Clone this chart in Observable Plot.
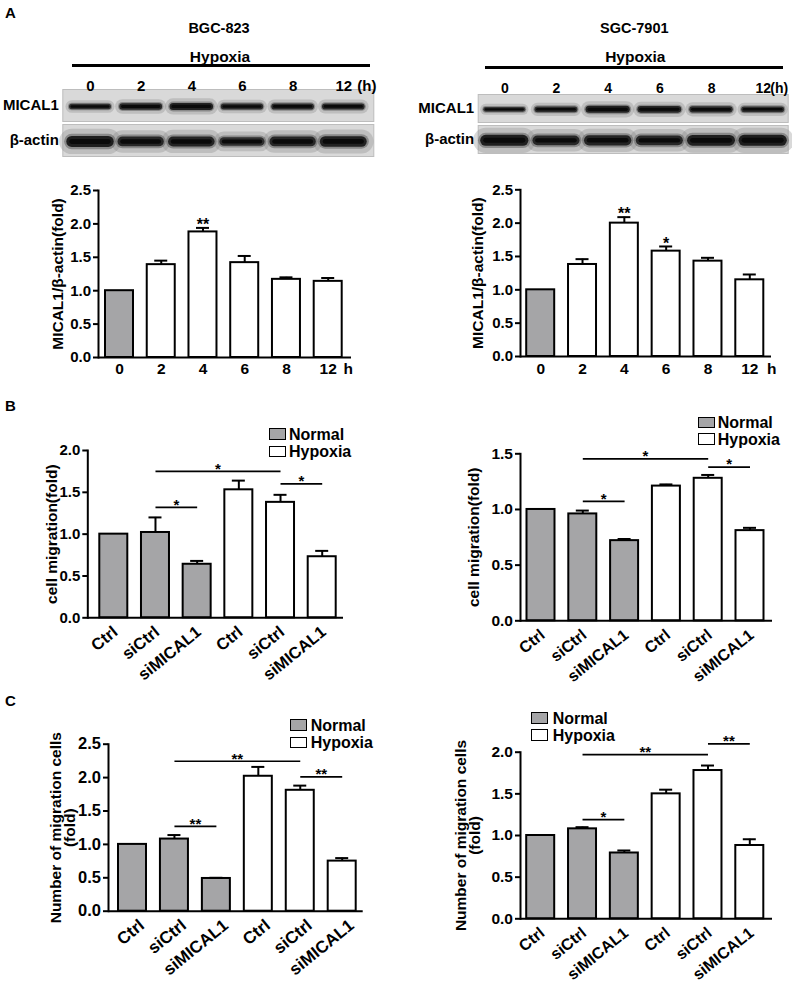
<!DOCTYPE html>
<html>
<head>
<meta charset="utf-8">
<script src="https://cdn.jsdelivr.net/npm/d3@7"></script>
<script src="https://cdn.jsdelivr.net/npm/@observablehq/plot@0.6"></script>
<style>
  html, body { margin: 0; padding: 0; background: #fff; }
  #fig { position: relative; width: 792px; height: 990px; overflow: hidden;
         font-family: "Liberation Sans", Arial, Helvetica, sans-serif; font-weight: bold; color: #000; }
  #fig svg g[aria-label="fy-axis tick label"] { font-size: 15px; }
</style>
</head>
<body>
<div id="fig"></div>
<script>
// ------------------------------------------------------------------ data
const panelLetters = ["A", "B", "C"];
const cellLines = ["BGC-823", "SGC-7901"];
const treatmentTitle = "Hypoxia";
const proteins = ["MICAL1", "β-actin"];
const hypoxiaHours = ["0", "2", "4", "6", "8", "12"];
const hourUnitBlot = "(h)";
const hourUnitAxis = "h";
const timeCondition = ["Normal", "Hypoxia", "Hypoxia", "Hypoxia", "Hypoxia", "Hypoxia"];

// western blot band strengths (0..1)
const bgcMicalBand = [0.55, 0.75, 0.9, 0.65, 0.7, 0.7];
const bgcActinBand = [1.0, 0.8, 0.85, 0.6, 0.8, 0.9];
const sgcMicalBand = [0.4, 0.6, 0.9, 0.8, 0.7, 0.6];
const sgcActinBand = [1.0, 0.8, 0.85, 0.8, 0.95, 1.0];

// MICAL1/β-actin (fold)
const bgcTimeMean = [1.00, 1.39, 1.88, 1.42, 1.17, 1.14];
const bgcTimeErr  = [0, 0.06, 0.06, 0.10, 0.03, 0.05];
const bgcTimeSig  = ["", "", "**", "", "", ""];
const sgcTimeMean = [1.00, 1.38, 2.00, 1.58, 1.43, 1.15];
const sgcTimeErr  = [0, 0.08, 0.09, 0.07, 0.05, 0.08];
const sgcTimeSig  = ["", "", "**", "*", "", ""];

const groupLabels = ["Ctrl", "siCtrl", "siMICAL1", "Ctrl", "siCtrl", "siMICAL1"];
const groupCondition = ["Normal", "Normal", "Normal", "Hypoxia", "Hypoxia", "Hypoxia"];
const conditionNames = ["Normal", "Hypoxia"];

// cell migration (fold)
const bgcMigMean = [1.00, 1.02, 0.64, 1.53, 1.38, 0.73];
const bgcMigErr  = [0, 0.18, 0.04, 0.11, 0.09, 0.07];
const sgcMigMean = [1.00, 0.96, 0.72, 1.21, 1.28, 0.81];
const sgcMigErr  = [0, 0.03, 0.015, 0.015, 0.03, 0.025];

// number of migration cells (fold)
const bgcCountMean = [1.00, 1.08, 0.49, 2.02, 1.81, 0.75];
const bgcCountErr  = [0, 0.06, 0.01, 0.14, 0.07, 0.045];
const sgcCountMean = [1.00, 1.08, 0.79, 1.50, 1.78, 0.88];
const sgcCountErr  = [0, 0.02, 0.03, 0.05, 0.06, 0.075];

// significance brackets (group index from → to), level and label
const bracketFrom = [1, 1, 4];
const bracketTo   = [4, 2, 5];
const bgcMigSigY = [1.75, 1.32, 1.60];
const bgcMigSigLabel = ["*", "*", "*"];
const sgcMigSigY = [1.455, 1.072, 1.38];
const sgcMigSigLabel = ["*", "*", "*"];
const bgcCountSigY = [2.245, 1.27, 2.01];
const bgcCountSigLabel = ["**", "**", "**"];
const sgcCountSigY = [1.97, 1.19, 2.10];
const sgcCountSigLabel = ["**", "*", "**"];

const ticks25 = [0, 0.5, 1.0, 1.5, 2.0, 2.5];
const ticks20 = [0, 0.5, 1.0, 1.5, 2.0];
const ticks15 = [0, 0.5, 1.0, 1.5];

// ------------------------------------------------------------------ styles
const FONT = '"Liberation Sans", Arial, Helvetica, sans-serif';
const conditionFills = ["#a5a5a7", "#ffffff"];
const fmt1 = d3.format(".1f");
const fig = document.getElementById("fig");

function place(node, left, top) {
  node.style.position = "absolute";
  node.style.left = left + "px";
  node.style.top = top + "px";
  fig.appendChild(node);
}

function addText(str, x, y, size, anchor = "middle") {
  const d = document.createElement("div");
  d.textContent = str;
  const tx = anchor === "middle" ? "-50%" : anchor === "end" ? "-100%" : "0";
  d.style.cssText = `position:absolute;left:${x}px;top:${y}px;font-size:${size}px;line-height:1;white-space:nowrap;transform:translate(${tx},-50%);`;
  fig.appendChild(d);
}

function addLine(x1, x2, y, h) {
  const d = document.createElement("div");
  d.style.cssText = `position:absolute;left:${x1}px;top:${y - h / 2}px;width:${x2 - x1}px;height:${h}px;background:#000;`;
  fig.appendChild(d);
}

function addLegend(x, y1, y2, textX) {
  [y1, y2].forEach((y, k) => {
    const box = document.createElement("div");
    box.style.cssText = `position:absolute;left:${x}px;top:${y}px;width:15px;height:9.5px;border:1.5px solid #000;background:${conditionFills[k]};`;
    fig.appendChild(box);
    addText(conditionNames[k], textX, y + 6.5, 16, "start");
  });
}

// ------------------------------------------------------------------ blots
function blot(o) {
  const bands = [];
  proteins.forEach((p, k) => (k === 0 ? o.mical : o.actin).forEach((v, lane) => bands.push({protein: p, lane, v})));
  const lanes = hypoxiaHours.map((label, lane) => ({lane, label}));
  const bandHalf = 0.36, bandY = 0.47;
  const w = d => d.protein === proteins[0] ? 3 + 4.5 * d.v : 5 + 6 * d.v;
  const common = {fy: "protein", y: () => bandY, x1: d => d.lane - bandHalf, x2: d => d.lane + bandHalf, strokeLinecap: "round"};
  const chart = Plot.plot({
    width: o.width, height: o.height,
    marginLeft: o.frameLeft - o.pageLeft, marginRight: o.pageLeft + o.width - o.frameRight,
    marginTop: o.frameTop - o.pageTop, marginBottom: o.pageTop + o.height - o.frameBottom,
    style: {fontFamily: FONT, fontSize: "15px", fontWeight: "bold", color: "#000", background: "none", overflow: "visible"},
    x: {domain: [0, 5], range: [o.lane0 - o.pageLeft, o.lane5 - o.pageLeft], axis: null},
    y: {domain: [0, 1], axis: null},
    fy: {domain: proteins, axis: "left", label: null, tickSize: 0, tickPadding: 4, paddingInner: o.gap, paddingOuter: 0},
    marks: [
      Plot.frame({fill: "#d9d9d9", stroke: "#bdbdbd"}),
      Plot.ruleY(bands, {...common, stroke: "#808080", strokeOpacity: 0.3, strokeWidth: d => w(d) * 2.3}),
      Plot.ruleY(bands, {...common, stroke: "#555", strokeOpacity: 0.5, strokeWidth: d => w(d) * 1.4}),
      Plot.ruleY(bands, {...common, stroke: "#1e1e1e", strokeOpacity: d => 0.6 + 0.4 * d.v, strokeWidth: w}),
      Plot.ruleY(bands, {...common, stroke: "#0a0a0a", strokeWidth: d => w(d) * 0.45}),
      Plot.text(lanes, {fy: () => proteins[0], x: "lane", text: "label", frameAnchor: "top", dy: o.labelDy, fontSize: o.laneFont}),
      Plot.text([hourUnitBlot], {fy: () => proteins[0], x: () => 5, text: d => d, frameAnchor: "top", dx: o.unitDx, dy: o.labelDy, fontSize: o.laneFont})
    ]
  });
  place(chart, o.pageLeft, o.pageTop);
}

// ------------------------------------------------------------------ bar charts
function barChart(o) {
  const rows = o.labels.map((label, i) => ({i, label, mean: o.means[i], err: o.errs[i], cond: o.conds[i], sig: o.sigs ? o.sigs[i] : ""}));
  const errRows = rows.filter(d => d.err > 0);
  const step = (o.c5 - o.c0) / 5;
  const hw = o.barW / 2 / step, capHw = 6.5 / step;
  const brackets = o.sigY ? o.sigY.map((y, k) => ({from: bracketFrom[k], to: bracketTo[k], y, label: o.sigLabel[k]})) : [];
  const marks = [
    Plot.rect(rows, {x1: d => d.i - hw, x2: d => d.i + hw, y1: 0, y2: "mean", fill: "cond", stroke: "#000", strokeWidth: 2}),
    Plot.ruleX(errRows, {x: "i", y1: "mean", y2: d => d.mean + d.err, strokeWidth: 2}),
    Plot.ruleY(errRows, {y: d => d.mean + d.err, x1: d => d.i - capHw, x2: d => d.i + capHw, strokeWidth: 2}),
    Plot.ruleY([0], {strokeWidth: 2}),
    Plot.frame({anchor: "left", strokeWidth: 2}),
    Plot.axisY({ticks: o.yTicks, tickFormat: () => "", tickSize: 5, strokeWidth: 2, label: null}),
    Plot.text(o.yTicks, {y: d => d, text: d => fmt1(d), frameAnchor: "left", textAnchor: "end", dx: -7.5, fontSize: o.tickFont}),
    Plot.text([o.yLabel], {frameAnchor: "left", textAnchor: "middle", dx: -o.yLabelOffset, rotate: -90, text: d => d, fontSize: 15.5, lineHeight: 0.92})
  ];
  if (o.rotate) {
    marks.push(Plot.text(rows, {x: "i", text: "label", frameAnchor: "bottom", rotate: -39, textAnchor: "end", dx: o.labelDx, dy: o.labelDy, fontSize: o.labelFont}));
  } else {
    marks.push(Plot.text(rows, {x: "i", text: "label", frameAnchor: "bottom", dy: o.labelDy, fontSize: o.labelFont}));
    marks.push(Plot.text([hourUnitAxis], {x: () => o.labels.length - 1, text: d => d, frameAnchor: "bottom", dx: o.unitDx, dy: o.labelDy, fontSize: o.labelFont}));
  }
  if (o.sigs) {
    marks.push(Plot.text(rows.filter(d => d.sig), {x: "i", y: d => d.mean + d.err, text: "sig", dy: -3, fontSize: 16}));
  }
  if (brackets.length) {
    marks.push(Plot.link(brackets, {x1: "from", x2: "to", y1: "y", y2: "y", strokeWidth: 1.7}));
    marks.push(Plot.text(brackets, {x: d => (d.from + d.to) / 2, y: "y", text: "label", dy: -2.5, fontSize: 15}));
  }
  const chart = Plot.plot({
    width: o.width, height: o.height,
    marginLeft: o.axisX - o.pageLeft, marginRight: o.pageLeft + o.width - o.xEnd,
    marginTop: o.yTopPx - o.pageTop, marginBottom: o.pageTop + o.height - o.yZeroPx,
    style: {fontFamily: FONT, fontSize: "15px", fontWeight: "bold", color: "#000", background: "none", overflow: "visible"},
    x: {domain: [0, 5], range: [o.c0 - o.pageLeft, o.c5 - o.pageLeft], axis: null},
    y: {domain: [0, o.yMax]},
    color: {domain: conditionNames, range: conditionFills},
    marks
  });
  place(chart, o.pageLeft, o.pageTop);
}

// ------------------------------------------------------------------ panel A
blot({pageLeft: 0, pageTop: 70, width: 396, height: 95, frameLeft: 62.3, frameRight: 373.3, frameTop: 88.3, frameBottom: 156,
      lane0: 90, lane5: 343.3, gap: 0.09, labelDy: -9.5, unitDx: 23, laneFont: 15, mical: bgcMicalBand, actin: bgcActinBand});
blot({pageLeft: 396, pageTop: 70, width: 396, height: 95, frameLeft: 477.7, frameRight: 787.7, frameTop: 93.3, frameBottom: 153.3,
      lane0: 504.3, lane5: 762.7, gap: 0.1, labelDy: -11.5, unitDx: 16, laneFont: 14, mical: sgcMicalBand, actin: sgcActinBand});

const common = {width: 396, barW: 28};
barChart({...common, pageLeft: 0, pageTop: 170, height: 220, axisX: 98, xEnd: 351, yTopPx: 190, yZeroPx: 357, c0: 119, c5: 327.7,
  yMax: 2.5, yTicks: ticks25, labels: hypoxiaHours, means: bgcTimeMean, errs: bgcTimeErr, conds: timeCondition, sigs: bgcTimeSig,
  tickFont: 15, labelFont: 15.5, labelDy: 16, unitDx: 20, yLabel: "MICAL1/β-actin(fold)", yLabelOffset: 40});
barChart({...common, pageLeft: 396, pageTop: 170, height: 220, axisX: 520, xEnd: 771, yTopPx: 189.3, yZeroPx: 356, c0: 540.2, c5: 749.3,
  yMax: 2.5, yTicks: ticks25, labels: hypoxiaHours, means: sgcTimeMean, errs: sgcTimeErr, conds: timeCondition, sigs: sgcTimeSig,
  tickFont: 15, labelFont: 15.5, labelDy: 17, unitDx: 22, yLabel: "MICAL1/β-actin(fold)", yLabelOffset: 42.5});

// ------------------------------------------------------------------ panel B
barChart({...common, pageLeft: 0, pageTop: 400, height: 290, axisX: 87.3, xEnd: 343, yTopPx: 450, yZeroPx: 617.3, c0: 113.3, c5: 321.7,
  yMax: 2.0, yTicks: ticks20, labels: groupLabels, means: bgcMigMean, errs: bgcMigErr, conds: groupCondition,
  tickFont: 15, labelFont: 16.5, rotate: true, labelDx: 5, labelDy: 16, yLabel: "cell migration(fold)", yLabelOffset: 35, sigY: bgcMigSigY, sigLabel: bgcMigSigLabel});
barChart({...common, pageLeft: 396, pageTop: 400, height: 290, axisX: 520, xEnd: 772, yTopPx: 453.3, yZeroPx: 620.3, c0: 540.5, c5: 749.5,
  yMax: 1.5, yTicks: ticks15, labels: groupLabels, means: sgcMigMean, errs: sgcMigErr, conds: groupCondition,
  tickFont: 15.5, labelFont: 16, rotate: true, labelDx: 5, labelDy: 16, yLabel: "cell migration(fold)", yLabelOffset: 46, sigY: sgcMigSigY, sigLabel: sgcMigSigLabel});

// ------------------------------------------------------------------ panel C
barChart({...common, pageLeft: 0, pageTop: 690, height: 300, axisX: 108, xEnd: 362.7, yTopPx: 743.7, yZeroPx: 910.7, c0: 132, c5: 341.7,
  yMax: 2.5, yTicks: ticks25, labels: groupLabels, means: bgcCountMean, errs: bgcCountErr, conds: groupCondition,
  tickFont: 16.5, labelFont: 17, rotate: true, labelDx: 13, labelDy: 16, yLabel: "Number of migration cells\n(fold)", yLabelOffset: 45, sigY: bgcCountSigY, sigLabel: bgcCountSigLabel});
barChart({...common, pageLeft: 396, pageTop: 690, height: 300, axisX: 520, xEnd: 772, yTopPx: 751.7, yZeroPx: 918.3, c0: 540.2, c5: 749.3,
  yMax: 2.0, yTicks: ticks20, labels: groupLabels, means: sgcCountMean, errs: sgcCountErr, conds: groupCondition,
  tickFont: 15.5, labelFont: 16, rotate: true, labelDx: 5, labelDy: 16, yLabel: "Number of migration cells\n(fold)", yLabelOffset: 52, sigY: sgcCountSigY, sigLabel: sgcCountSigLabel});

// ------------------------------------------------------------------ text, rules and legends
addText(panelLetters[0], 5, 12, 15, "start");
addText(panelLetters[1], 5, 405, 15, "start");
addText(panelLetters[2], 5, 700, 15, "start");
addText(cellLines[0], 219, 28, 14.5);
addText(cellLines[1], 634.3, 27.5, 14.5);
addText(treatmentTitle, 220, 57, 15.5);
addText(treatmentTitle, 635.3, 57, 15.5);
addLine(71.7, 370, 65.3, 2.5);
addLine(485.3, 782.7, 67.5, 2.5);
addLegend(269, 428, 445.7, 289);
addLegend(697.7, 416.7, 433.3, 717.7);
addLegend(290, 719, 736.7, 310.7);
addLegend(531, 712.3, 729.3, 552.7);
</script>
</body>
</html>
